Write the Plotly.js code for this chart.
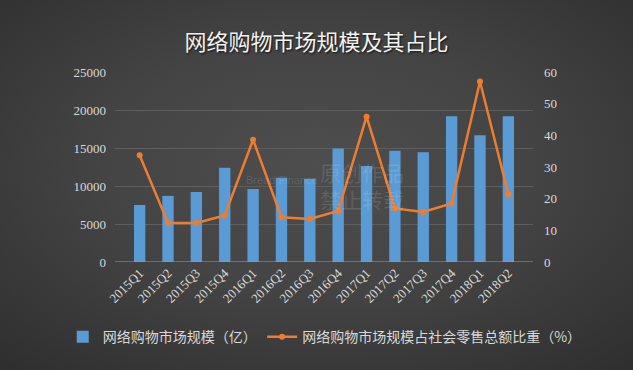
<!DOCTYPE html>
<html><head><meta charset="utf-8">
<script src="https://cdn.plot.ly/plotly-3.0.1.min.js"></script>
<style>
html,body{margin:0;padding:0;background:#2e2e2e;}
#chart{width:633px;height:370px;background:radial-gradient(ellipse 75% 75% at 50% 45%, #4e4e4e 0%, #444444 45%, #2e2e2e 100%);}
</style></head>
<body><div id="chart"></div>
<script>
const categories = ['2015Q1','2015Q2','2015Q3','2015Q4','2016Q1','2016Q2','2016Q3','2016Q4','2017Q1','2017Q2','2017Q3','2017Q4','2018Q1','2018Q2'];
const marketSize = [7500, 8700, 9200, 12400, 9600, 11100, 10950, 14950, 12630, 14650, 14430, 19170, 16670, 19170];
const shareOfRetail = [33.7, 12.3, 12.3, 14.7, 38.6, 14.1, 13.6, 16.1, 45.9, 16.9, 15.8, 18.5, 57.0, 21.4];
const leftTicks = [0, 5000, 10000, 15000, 20000, 25000];
const rightTicks = [0, 10, 20, 30, 40, 50, 60];

const tickFont = {family:'Liberation Serif, DejaVu Serif, serif', size:13, color:'#d9d9d9'};
const cjk = 'Noto Sans CJK SC, sans-serif';
const legendFont = {family:cjk, size:14, color:'#d9d9d9'};

const traces = [
  {type:'bar', x:categories, y:marketSize, name:'网络购物市场规模（亿）',
   marker:{color:'#5b9bd5'}, yaxis:'y', legend:'legend'},
  {type:'scatter', mode:'lines+markers', x:categories, y:shareOfRetail,
   name:'网络购物市场规模占社会零售总额比重（%）', yaxis:'y2', legend:'legend2',
   line:{color:'#ed7d31', width:2.5}, marker:{color:'#ed7d31', size:6}}
];

const layout = {
  width:633, height:370,
  paper_bgcolor:'rgba(0,0,0,0)', plot_bgcolor:'rgba(0,0,0,0)',
  margin:{l:115, r:100, t:72, b:108},
  bargap:0.6,
  showlegend:true,
  title:{text:'网络购物市场规模及其占比', x:0.5, xanchor:'center', y:0.885, yanchor:'middle',
         font:{family:cjk, size:22, color:'#f2f2f2', shadow:'1px 1px 2px #111'}},
  xaxis:{type:'category', tickangle:-45, tickfont:tickFont, showgrid:false,
         showline:false, ticks:'', zeroline:false, automargin:false},
  yaxis:{range:[0,25000], tickvals:leftTicks, ticktext:leftTicks.map(String), tickfont:tickFont,
         gridcolor:'#5e5e5e', gridwidth:1, zeroline:false, showline:false, ticks:'',
         ticklabelstandoff:8, automargin:false},
  yaxis2:{range:[0,60], tickvals:rightTicks, ticktext:rightTicks.map(String), tickfont:tickFont,
          overlaying:'y', side:'right', showgrid:false, zeroline:false, showline:false,
          ticks:'', ticklabelstandoff:10, automargin:false},
  legend:{orientation:'h', xref:'paper', x:-0.125, xanchor:'left', y:-0.395, yanchor:'middle',
          font:legendFont, bgcolor:'rgba(0,0,0,0)', itemwidth:30},
  legend2:{orientation:'h', xref:'paper', x:0.352, xanchor:'left', y:-0.395, yanchor:'middle',
          font:legendFont, bgcolor:'rgba(0,0,0,0)', itemwidth:30},
  shapes:[
    {type:'line', xref:'paper', yref:'y', x0:0, x1:1, y0:0, y1:0, line:{color:'#9a9a9a', width:1}}
  ],
  annotations:[
    {xref:'paper', yref:'paper', x:0.40, y:0.43, text:'Bread Finance', showarrow:false,
     font:{family:'Liberation Sans, sans-serif', size:11, color:'rgba(255,255,255,0.13)'}},
    {xref:'paper', yref:'paper', x:0.695, y:0.24, text:'原创作品<br>禁止转载', showarrow:false, align:'left',
     font:{family:cjk, size:21, color:'rgba(255,255,255,0.12)'}}
  ]
};

Plotly.newPlot('chart', traces, layout, {displayModeBar:false, staticPlot:true});
</script></body></html>
